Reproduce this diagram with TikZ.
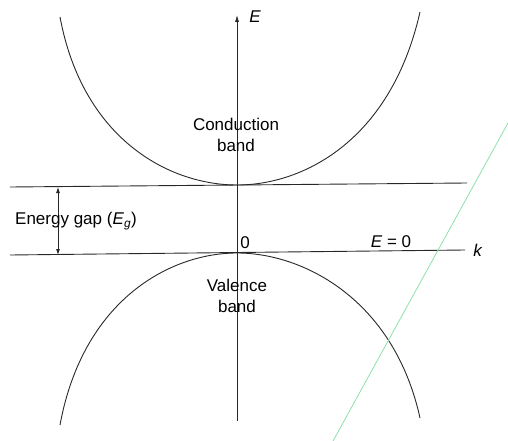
\documentclass[tikz,border=0pt]{standalone}
\usepackage{fontspec}
\setmainfont{Liberation Sans}
\usetikzlibrary{arrows.meta}
\definecolor{scangreen}{RGB}{140,225,170}
\definecolor{inkgrey}{RGB}{40,40,40}

\begin{document}
\begin{tikzpicture}[x=1pt,y=-1pt,
    band/.style={draw=inkgrey, line width=0.9pt},
    axisline/.style={draw=inkgrey, line width=0.8pt},
    lbl/.style={font=\fontsize{17}{21}\selectfont, align=center, inner sep=1pt}]
  \useasboundingbox (0,0) rectangle (508,441);

  % band edges and axes
  \coordinate (ctopl) at (10,187);
  \coordinate (ctopr) at (467,183);
  \coordinate (vtopl) at (10,255);
  \coordinate (vtopr) at (465,250);
  \coordinate (ebot) at (237,421);
  \coordinate (etop) at (237,15);
  \draw[band] (ctopl) -- (ctopr);
  \draw[band] (vtopl) -- (vtopr);
  \draw[axisline, -{Latex[length=7pt,width=4pt]}] (ebot) -- (etop);

  % conduction and valence bands
  \coordinate (cl) at (60,17);
  \coordinate (cm) at (237,185);
  \coordinate (cr) at (420,12);
  \coordinate (vl) at (60,425);
  \coordinate (vm) at (237,253);
  \coordinate (vr) at (420,418);
  \draw[band] (cl) .. controls (83,140) and (170,185) .. (cm)
    .. controls (304,185) and (391,140) .. (cr);
  \draw[band] (vl) .. controls (83,300) and (170,253) .. (vm)
    .. controls (304,253) and (394,300) .. (vr);

  % energy gap
  \coordinate (gtop) at (58,187);
  \coordinate (gbot) at (58,255);
  \draw[axisline, {Latex[length=6pt,width=4pt]}-{Latex[length=6pt,width=4pt]}]
    (gtop) -- (gbot);

  % scanner streak
  \coordinate (streaka) at (333,441);
  \coordinate (streakb) at (508,123);
  \draw[scangreen, line width=0.8pt] (streaka) -- (streakb);

  \node[lbl] (elabel) at (255,17) {\textit{E}};
  \node[lbl] (klabel) at (478,250) {\textit{k}};
  \node[lbl] (zero) at (245,243) {0};
  \node[lbl] (ezero) at (391,242) {\textit{E} = 0};
  \node[lbl] (cband) at (236,135) {Conduction\\band};
  \node[lbl] (vband) at (237,296) {Valence\\band};
  \node[lbl] (gap) at (76,221) {Energy gap (\textit{E}\textsubscript{\textit{g}})};
\end{tikzpicture}
\end{document}
